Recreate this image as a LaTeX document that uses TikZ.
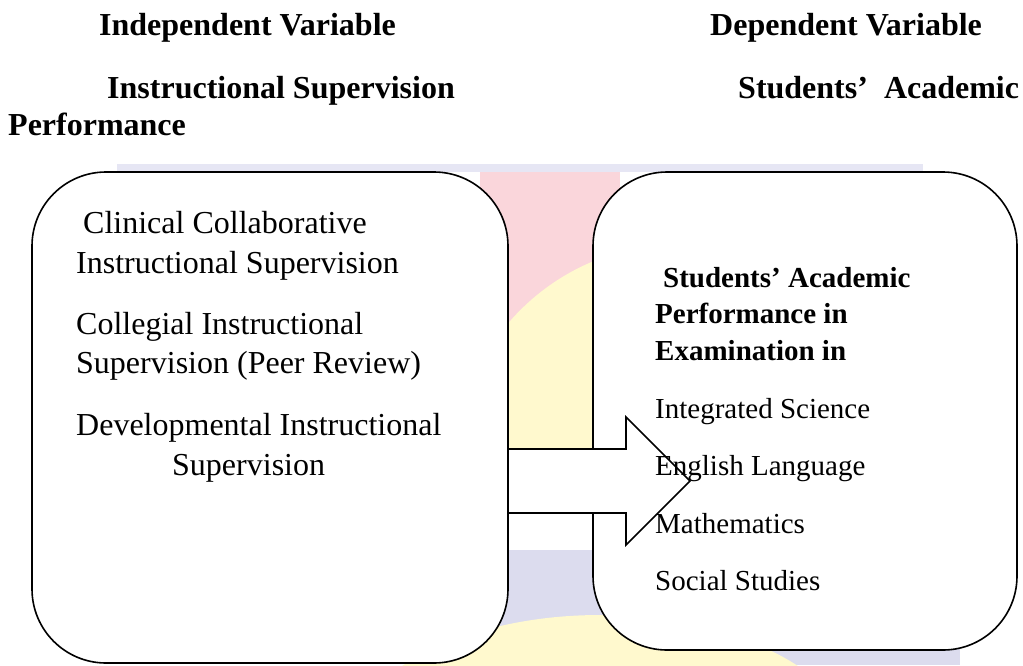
\documentclass[tikz,border=0pt]{standalone}
\usepackage{fontspec}
\setmainfont{Liberation Serif}[
  BoldFont={Liberation Serif Bold},
  ItalicFont={Liberation Serif Italic}]

\definecolor{wmpink}{RGB}{250,214,219}
\definecolor{wmyellow}{RGB}{255,249,206}
\definecolor{wmlav}{RGB}{220,220,238}
\definecolor{wmband}{RGB}{230,230,244}

\tikzset{
  box/.style={draw, line width=1.6pt, fill=white, rounded corners=74pt, inner sep=0pt, outer sep=0pt},
  blockarrow/.style={draw, line width=1.6pt, fill=white, line join=miter},
  head/.style={anchor=base west, inner sep=0pt, font=\fontsize{32}{40}\selectfont\bfseries},
  item/.style={anchor=base west, inner sep=0pt, font=\fontsize{32}{40}\selectfont},
  subhead/.style={anchor=base west, inner sep=0pt, font=\fontsize{29}{36}\selectfont\bfseries},
  subitem/.style={anchor=base west, inner sep=0pt, font=\fontsize{29}{36}\selectfont}
}

\begin{document}
\begin{tikzpicture}[x=1pt,y=-1pt]
\useasboundingbox (0,0) rectangle (1023,665);

% faint logo behind the boxes
\fill[wmband] (117,164) rectangle (923,172);
\fill[wmpink] (480,172) rectangle (620,449);
\begin{scope}
  \clip (480,172) rectangle (620,449);
  \fill[wmyellow] (680,470) circle (226);
\end{scope}
\fill[wmlav] (480,550) rectangle (960,665);
\fill[wmyellow] (600,760) ellipse (260 and 145);

% the two boxes
\node[box, minimum width=476pt, minimum height=491pt] (indep) at (270,417.5) {};
\node[box, minimum width=424pt, minimum height=478pt] (dep) at (805,411) {};

% block arrow from left box into right box
\coordinate (mid) at (0,481);
\draw[blockarrow] (indep.east |- mid) -- ++(0,-32) -- ++(118,0) -- ++(0,-32)
  -- ++(64,64) -- ++(-64,64) -- ++(0,-32) -- ++(-118,0) -- cycle;

% headings
\node[head] (iv) at (99,35) {Independent Variable};
\node[head] (dv) at (710,35) {Dependent Variable};
\node[head] (ivname) at (107,98) {Instructional Supervision};
\node[head] (dvname) at (738,98) {Students’\hspace{16pt}Academic};
\node[head] (dvname2) at (8,135) {Performance};

% left box
\foreach \x/\y/\t [count=\i] in {83/233/Clinical Collaborative,
    76/273/Instructional Supervision, 76/334/Collegial Instructional,
    76/373/Supervision (Peer Review), 76/435/Developmental Instructional,
    172/475/Supervision}
  \node[item] (sup\i) at (\x,\y) {\t};

% right box
\node[subhead] (perf1) at (663,287) {Students’ Academic};
\node[subhead] (perf2) at (655,323) {Performance in};
\node[subhead] (perf3) at (655,360) {Examination in};
\foreach \y/\t [count=\i] in {418/Integrated Science, 475/English Language,
    533/Mathematics, 590/Social Studies}
  \node[subitem] (subj\i) at (655,\y) {\t};

\end{tikzpicture}
\end{document}
